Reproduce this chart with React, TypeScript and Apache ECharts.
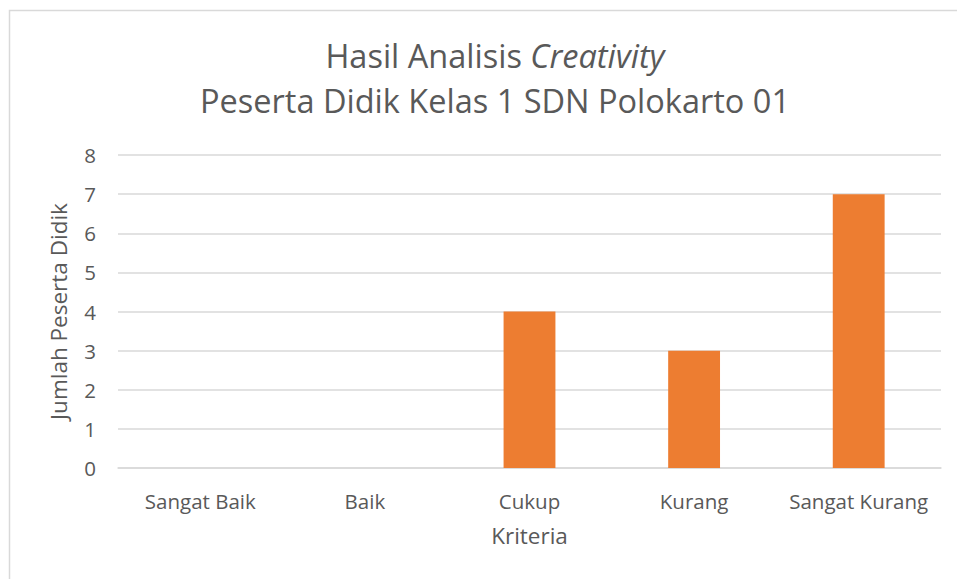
import React, { useEffect, useRef } from "react";
import * as echarts from "echarts";

const categories = ["Sangat Baik", "Baik", "Cukup", "Kurang", "Sangat Kurang"];
const values = [0, 0, 4, 3, 7];
const yTicks = { min: 0, max: 8, interval: 1 };
const titleLine1 = "Hasil Analisis {i|Creativity}";
const titleLine2 = "Peserta Didik Kelas 1 SDN Polokarto 01";
const yName = "Jumlah Peserta Didik";
const xName = "Kriteria";

const FONT = "'Open Sans', sans-serif";
const TXT = "#595959";
const TITLE_SIZE = 32.5;

export default function App() {
  const ref = useRef<HTMLDivElement>(null);
  useEffect(() => {
    if (!ref.current) return;
    const chart = echarts.init(ref.current, null, { renderer: "svg" });
    chart.setOption({
      animation: false,
      backgroundColor: "#ffffff",
      title: [
        {
          text: titleLine1,
          left: 490,
          top: 34,
          textAlign: "center",
          textStyle: {
            fontFamily: FONT,
            fontSize: TITLE_SIZE,
            lineHeight: TITLE_SIZE,
            fontWeight: "normal",
            color: TXT,
            rich: {
              i: { fontFamily: FONT, fontSize: TITLE_SIZE, lineHeight: TITLE_SIZE, fontStyle: "italic", color: TXT },
            },
          },
        },
        {
          text: titleLine2,
          left: 490,
          top: 79,
          textAlign: "center",
          textStyle: { fontFamily: FONT, fontSize: TITLE_SIZE, lineHeight: TITLE_SIZE, fontWeight: "normal", color: TXT },
        },
      ],
      graphic: [
        {
          type: "polyline",
          shape: { points: [[9.5, 600], [9.5, 10.5], [960, 10.5]] },
          style: { stroke: "#d9d9d9", lineWidth: 1.5, fill: null },
          silent: true,
        },
      ],
      grid: { left: 118, right: 16, top: 155, bottom: 111, containLabel: false },
      xAxis: {
        type: "category",
        data: categories,
        name: xName,
        nameLocation: "middle",
        nameGap: 56,
        nameTextStyle: { fontFamily: FONT, fontSize: 22.5, color: TXT },
        axisLine: { show: true, lineStyle: { color: "#d9d9d9", width: 1.5 } },
        axisTick: { show: false },
        axisLabel: { fontFamily: FONT, fontSize: 20.5, color: TXT, margin: 22, interval: 0 },
      },
      yAxis: {
        type: "value",
        min: yTicks.min,
        max: yTicks.max,
        interval: yTicks.interval,
        name: yName,
        nameLocation: "middle",
        nameGap: 48,
        nameRotate: 90,
        nameTextStyle: { fontFamily: FONT, fontSize: 22.5, color: TXT },
        axisLine: { show: false },
        axisTick: { show: false },
        axisLabel: { fontFamily: FONT, fontSize: 20.5, color: TXT, margin: 22 },
        splitLine: { lineStyle: { color: "#d9d9d9", width: 1.5 } },
      },
      series: [
        {
          type: "bar",
          data: values,
          barWidth: "31.5%",
          itemStyle: { color: "#ED7D31" },
        },
      ],
    });
    return () => chart.dispose();
  }, []);
  return (
    <div
      ref={ref}
      style={{ position: "fixed", left: 0, top: 0, width: 957, height: 579, background: "#fff" }}
    />
  );
}
